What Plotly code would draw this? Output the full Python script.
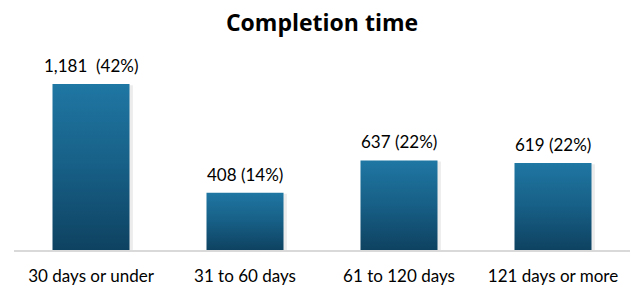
import plotly.graph_objects as go

categories = ["30 days or under", "31 to 60 days", "61 to 120 days", "121 days or more"]
counts = [1181, 408, 637, 619]
percents = [42, 14, 22, 22]
label_sep = ["\u00a0\u00a0", " ", " ", " "]

FONT = "Lato, 'Open Sans', sans-serif"
TITLE_FONT = "'Open Sans', Lato, sans-serif"
BAR_W = 0.5

fig = go.Figure()

for i, v in enumerate(counts):
    x0, x1 = i - BAR_W / 2, i + BAR_W / 2
    # soft shadow
    fig.add_trace(go.Scatter(
        x=[x0 + 0.02, x1 + 0.022, x1 + 0.022, x0 + 0.02, x0 + 0.02],
        y=[0, 0, v - 8, v - 8, 0],
        fill="toself", mode="lines", line=dict(width=0),
        fillcolor="rgba(150,150,150,0.18)", hoverinfo="skip", showlegend=False,
    ))
    fig.add_trace(go.Scatter(
        x=[x0, x1, x1, x0, x0],
        y=[0, 0, v, v, 0],
        fill="toself", mode="lines", line=dict(width=0),
        fillgradient=dict(type="vertical",
                          colorscale=[[0, "#0e4261"], [0.5, "#175f86"], [1, "#1f77a3"]]),
        hoverinfo="skip", showlegend=False,
    ))
    fig.add_annotation(
        x=i, y=v, text=f"{v:,}{label_sep[i]}({percents[i]}%)",
        showarrow=False, yanchor="bottom", yshift=6,
        font=dict(family=FONT, size=17, color="#000000"),
    )

fig.update_layout(
    width=644, height=290,
    margin=dict(l=14, r=14, t=50, b=40, autoexpand=False),
    paper_bgcolor="white", plot_bgcolor="white",
    title=dict(text="<b>Completion time</b>", x=0.5, xanchor="center",
               y=1 - 23 / 290, yanchor="middle",
               font=dict(family=TITLE_FONT, size=23, color="#000000")),
    showlegend=False,
    xaxis=dict(range=[-0.5, 3.5], tickmode="array", tickvals=list(range(len(categories))),
               ticktext=categories, showgrid=False, zeroline=False, automargin=False,
               showline=True, linecolor="#d9d9d9", linewidth=2,
               ticks="outside", ticklen=10, tickcolor="rgba(0,0,0,0)",
               tickfont=dict(family=FONT, size=17, color="#000000")),
    yaxis=dict(range=[0, 1423], visible=False, showgrid=False, zeroline=False),
)

fig.write_html("out.html")
